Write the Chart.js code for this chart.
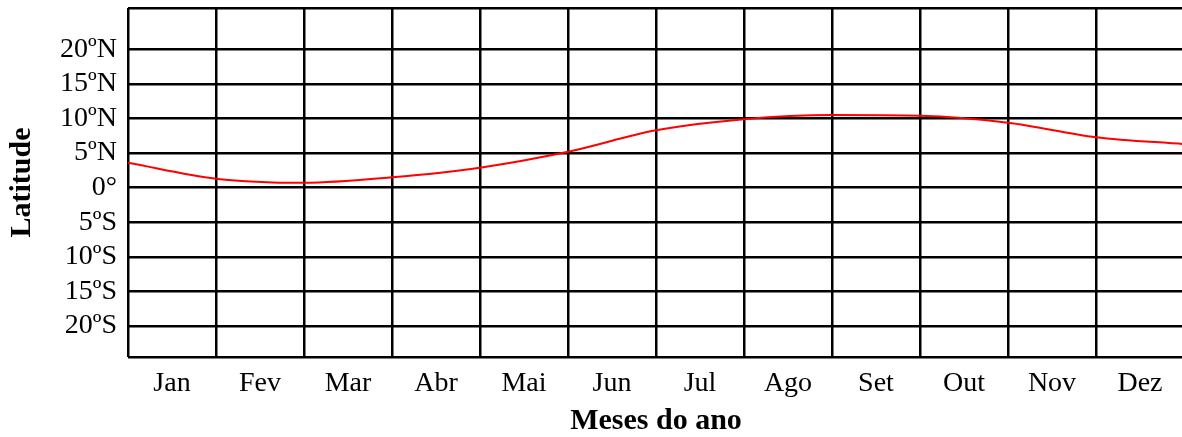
<!DOCTYPE html>
<html>
<head>
<meta charset="utf-8">
<script src="https://cdn.jsdelivr.net/npm/chart.js@4.4.1/dist/chart.umd.min.js"></script>
<style>
  html, body { margin: 0; padding: 0; background: #fff; overflow: hidden; }
  #wrap { width: 1190px; height: 437px; }
</style>
</head>
<body>
<div id="wrap"><canvas id="latChart"></canvas></div>
<script>
// month names shown between the grid lines
const months = ["Jan", "Fev", "Mar", "Abr", "Mai", "Jun", "Jul", "Ago", "Set", "Out", "Nov", "Dez"];
// position on the time axis (start of each month, 0 = 1 Jan, 12 = end of Dec)
const monthStart = [0, 1, 2, 3, 4, 5, 6, 7, 8, 9, 10, 11, 12];
// latitude (degrees, + = north) at each month boundary
const latitude = [3.6, 1.3, 0.7, 1.5, 2.9, 5.2, 8.3, 9.9, 10.5, 10.4, 9.4, 7.3, 6.3];
// y tick labels
const latTicks = [20, 15, 10, 5, 0, -5, -10, -15, -20];
const latLabels = ["20ºN", "15ºN", "10ºN", "5ºN", "0°", "5ºS", "10ºS", "15ºS", "20ºS"];
const yMin = -24.5, yMax = 26;

const points = monthStart.map((m, i) => ({ x: m, y: latitude[i] }));

const serif = "'Liberation Serif', 'DejaVu Serif', serif";

new Chart(document.getElementById("latChart"), {
    type: "line",
    data: {
        datasets: [{
            data: points,
            borderColor: "#ff0000",
            borderWidth: 2,
            pointRadius: 0,
            tension: 0.4,
            cubicInterpolationMode: "monotone",
            fill: false
        }]
    },
    options: {
        responsive: true,
        maintainAspectRatio: false,
        animation: false,
        layout: { autoPadding: false, padding: { top: 8, right: 6, left: 0, bottom: 0 } },
        plugins: { legend: { display: false }, tooltip: { enabled: false } },
        scales: {
            x: {
                type: "linear",
                min: 0,
                max: 12,
                afterBuildTicks: (scale) => {
                    let t = [];
                    for (let v = 0; v <= 12; v += 0.5) t.push({ value: v });
                    scale.ticks = t;
                },
                afterFit: (scale) => {
                    scale.height = 80;
                    scale.paddingLeft = 0;
                    scale.paddingRight = 0;
                },
                grid: {
                    color: (c) => (c.tick && c.tick.value % 1 === 0) ? "#000" : "rgba(0,0,0,0)",
                    lineWidth: 2.5,
                    drawTicks: false
                },
                border: { display: false },
                ticks: {
                    autoSkip: false,
                    maxRotation: 0,
                    padding: 10,
                    color: "#000",
                    font: { family: serif, size: 28 },
                    callback: (v) => (v % 1 === 0.5) ? months[Math.floor(v)] : ""
                },
                title: {
                    display: true,
                    text: "Meses do ano",
                    color: "#000",
                    font: { family: serif, size: 30, weight: "bold", lineHeight: 1 },
                    padding: { top: 0, bottom: 1 }
                }
            },
            y: {
                min: yMin,
                max: yMax,
                afterBuildTicks: (scale) => {
                    scale.ticks = [yMin].concat(latTicks.slice().reverse(), [yMax]).map(v => ({ value: v }));
                },
                afterFit: (scale) => {
                    scale.width = 128;
                    scale.paddingTop = 0;
                    scale.paddingBottom = 0;
                },
                grid: { color: "#000", lineWidth: 2.5, drawTicks: false },
                border: { display: false },
                ticks: {
                    autoSkip: false,
                    padding: 11,
                    color: "#000",
                    font: { family: serif, size: 28 },
                    callback: (v) => {
                        const i = latTicks.indexOf(v);
                        return i >= 0 ? latLabels[i] : "";
                    }
                },
                title: {
                    display: true,
                    text: "Latitude",
                    color: "#000",
                    font: { family: serif, size: 30, weight: "bold", lineHeight: 1 },
                    padding: { top: 7, bottom: 0 }
                }
            }
        }
    }
});
</script>
</body>
</html>
